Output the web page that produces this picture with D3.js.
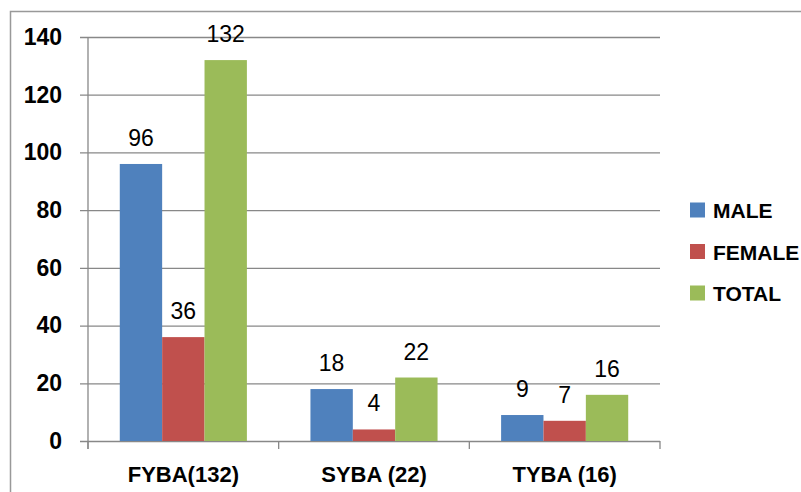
<!DOCTYPE html>
<html>
<head>
<meta charset="utf-8">
<script src="https://cdn.jsdelivr.net/npm/d3@7"></script>
<style>
  body { margin: 0; background: #fff; }
  svg { display: block; font-family: "Liberation Sans", Arial, sans-serif; }
  .grid line { stroke: #888; stroke-width: 1.3; }
</style>
</head>
<body>
<div id="chart"></div>
<script>
// data
const categories = ["FYBA(132)", "SYBA (22)", "TYBA (16)"];
const seriesNames = ["MALE", "FEMALE", "TOTAL"];
const maleValues = [96, 18, 9];
const femaleValues = [36, 4, 7];
const totalValues = [132, 22, 16];
const yTicks = [0, 20, 40, 60, 80, 100, 120, 140];
const colors = ["#4F81BD", "#C0504D", "#9BBB59"];

const width = 801, height = 492;
const plot = { left: 88, right: 660, top: 37, bottom: 441 };

const svg = d3.select("#chart").append("svg")
    .attr("width", width)
    .attr("height", height);

// outer chart border (runs off the right/bottom edge)
svg.append("rect")
    .attr("x", 10.5).attr("y", 11.5)
    .attr("width", 820).attr("height", 500)
    .attr("fill", "none")
    .attr("stroke", "#999")
    .attr("stroke-width", 1.5);

const x0 = d3.scaleBand().domain(categories).range([plot.left, plot.right]).padding(0);
const x1 = d3.scaleBand().domain(seriesNames).range([0, x0.bandwidth()])
    .paddingInner(0).paddingOuter(0.75);
const y = d3.scaleLinear().domain([0, 140]).range([plot.bottom, plot.top]);

// gridlines + y labels
const yAxis = svg.append("g")
    .attr("class", "grid")
    .attr("transform", `translate(${plot.left - 8},0)`)
    .call(d3.axisLeft(y).tickValues(yTicks).tickSize(-(plot.right - plot.left + 8)).tickPadding(18));
yAxis.select(".domain").remove();
yAxis.selectAll("text")
    .attr("font-size", 23)
    .attr("font-weight", "bold")
    .attr("fill", "#000")
    .attr("font-family", "Liberation Sans, Arial, sans-serif");

// vertical axis line
svg.append("line")
    .attr("x1", plot.left).attr("x2", plot.left)
    .attr("y1", y(140)).attr("y2", y(0) + 8)
    .attr("stroke", "#888").attr("stroke-width", 1.3);

// x tick marks at band boundaries
const boundaries = categories.map(c => x0(c)).concat([plot.right]);
svg.append("g").selectAll("line")
    .data(boundaries)
    .join("line")
    .attr("x1", d => d).attr("x2", d => d)
    .attr("y1", y(0)).attr("y2", y(0) + 8)
    .attr("stroke", "#888").attr("stroke-width", 1.3);

// x labels
const xAxis = svg.append("g")
    .attr("transform", `translate(0,${plot.bottom})`)
    .call(d3.axisBottom(x0).tickSize(0).tickPadding(25));
xAxis.select(".domain").remove();
xAxis.selectAll("text")
    .attr("font-size", 22)
    .attr("font-weight", "bold")
    .attr("fill", "#000")
    .attr("font-family", "Liberation Sans, Arial, sans-serif");

// bars
const seriesValues = [maleValues, femaleValues, totalValues];
const barData = [];
categories.forEach((cat, i) => {
    seriesNames.forEach((s, j) => {
        barData.push({ cat: cat, series: s, value: seriesValues[j][i], color: colors[j] });
    });
});

svg.append("g").selectAll("rect")
    .data(barData)
    .join("rect")
    .attr("x", d => x0(d.cat) + x1(d.series))
    .attr("y", d => y(d.value))
    .attr("width", x1.bandwidth())
    .attr("height", d => y(0) - y(d.value))
    .attr("fill", d => d.color);

// value labels
svg.append("g").selectAll("text")
    .data(barData)
    .join("text")
    .attr("x", d => x0(d.cat) + x1(d.series) + x1.bandwidth() / 2)
    .attr("y", d => y(d.value) - 18)
    .attr("text-anchor", "middle")
    .attr("font-size", 23)
    .attr("fill", "#000")
    .text(d => d.value);

// legend
const legend = svg.append("g").selectAll("g")
    .data(seriesNames)
    .join("g")
    .attr("transform", (d, i) => `translate(690,${210 + i * 41.5})`);
legend.append("rect")
    .attr("x", 0).attr("y", -7.5)
    .attr("width", 15).attr("height", 15)
    .attr("fill", (d, i) => colors[i]);
legend.append("text")
    .attr("x", 23).attr("y", 8)
    .attr("font-size", 21)
    .attr("font-weight", "bold")
    .attr("fill", "#000")
    .text(d => d);
</script>
</body>
</html>
